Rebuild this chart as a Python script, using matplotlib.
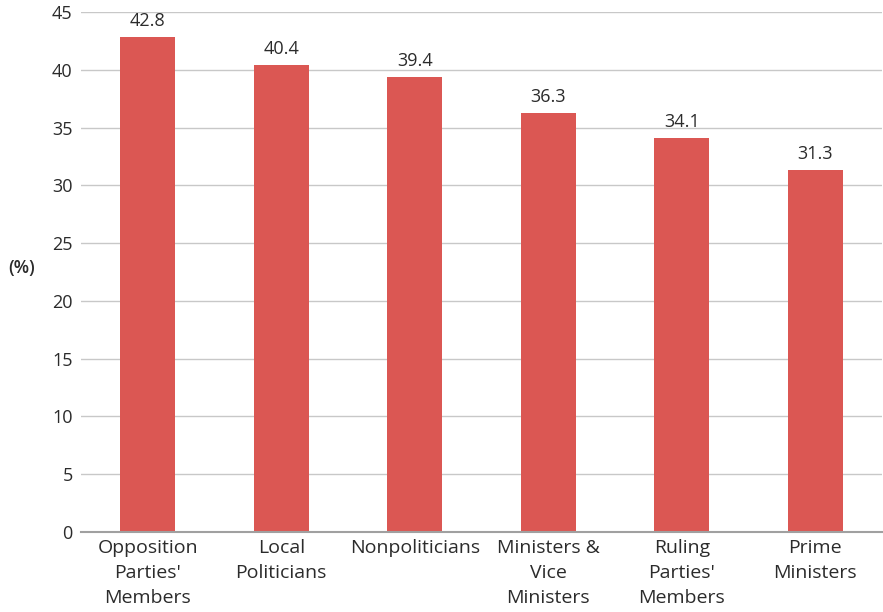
import matplotlib.pyplot as plt
import numpy as np

plt.rcParams['font.family'] = ['Open Sans', 'DejaVu Sans']

categories = ["Opposition\nParties'\nMembers", "Local\nPoliticians", "Nonpoliticians",
              "Ministers &\nVice\nMinisters", "Ruling\nParties'\nMembers", "Prime\nMinisters"]
values = [42.8, 40.4, 39.4, 36.3, 34.1, 31.3]
yticks = [0, 5, 10, 15, 20, 25, 30, 35, 40, 45]

bar_color = "#db5753"
text_color = "#2b2b2b"

fig = plt.figure(figsize=(8.83, 6.12), dpi=100)
ax = fig.add_axes([81/883, 1 - 532/612, 801/883, 520/612])

x = np.arange(len(categories))
bars = ax.bar(x, values, width=0.41, color=bar_color, zorder=3)

# value labels above each bar
for xi, v in zip(x, values):
    ax.text(xi, v + 0.6, f"{v:.1f}", ha="center", va="bottom", fontsize=13, color=text_color)

ax.set_xlim(-0.5, len(categories) - 0.5)
ax.set_ylim(0, 45)
ax.set_yticks(yticks)
ax.set_yticklabels([str(t) for t in yticks], fontsize=13, color=text_color)
ax.set_xticks(x)
ax.set_xticklabels(categories, fontsize=14, color=text_color, linespacing=1.5)

ax.tick_params(axis="both", length=0)
ax.tick_params(axis="y", pad=6)
ax.tick_params(axis="x", pad=5)

ax.yaxis.grid(True, color="#c8c8c8", linewidth=1, zorder=0)
for s in ["top", "right", "left"]:
    ax.spines[s].set_visible(False)
ax.spines["bottom"].set_color("#a0a0a0")
ax.spines["bottom"].set_linewidth(1.5)
ax.spines["bottom"].set_zorder(4)

fig.text(22/883, 1 - 268/612, "(%)", ha="center", va="center", fontsize=13,
         fontweight="semibold", color=text_color)

fig.savefig("out.png", dpi=100)
